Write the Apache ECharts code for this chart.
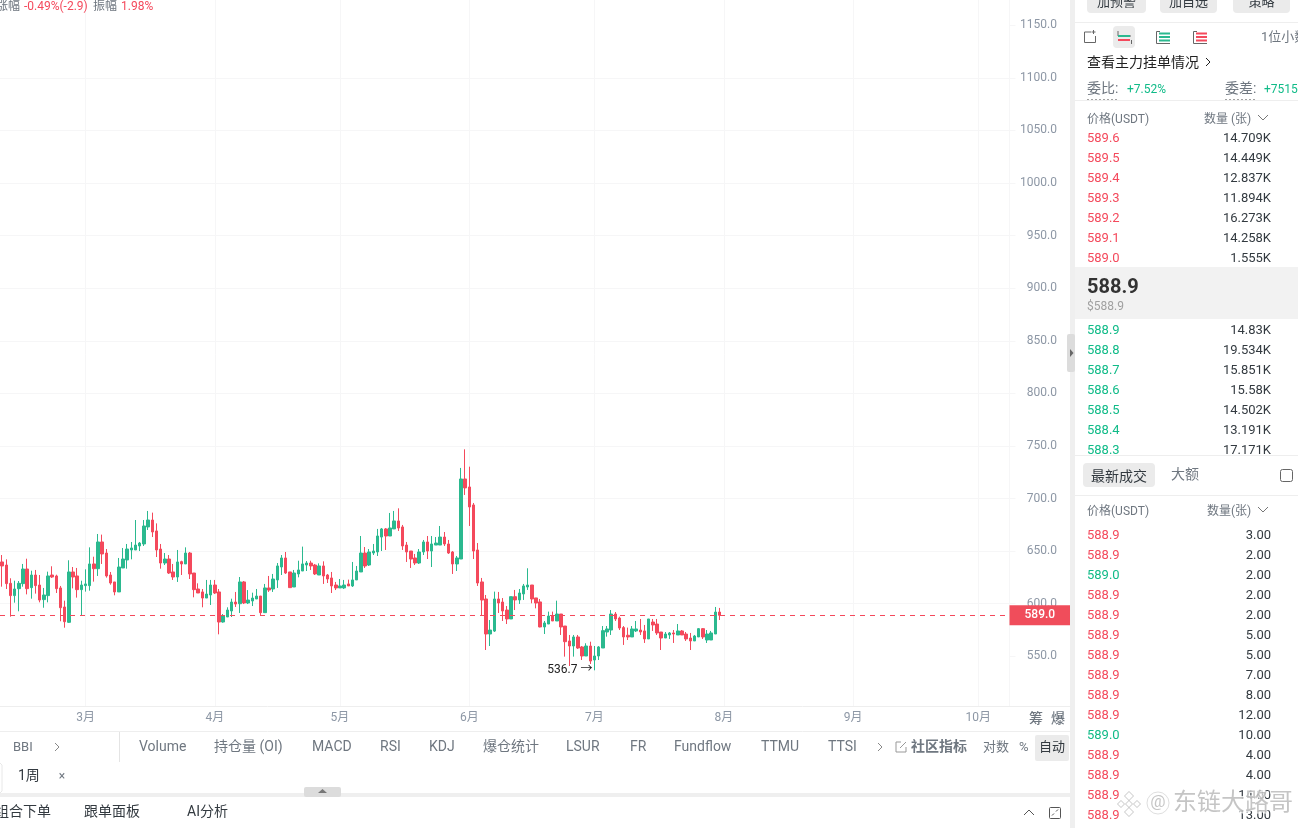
<!DOCTYPE html>
<html><head><meta charset="utf-8">
<style>html,body{margin:0;padding:0;background:#fff;overflow:hidden}#c{width:1298px;height:828px}</style>
<script src="https://cdn.jsdelivr.net/npm/echarts@6/dist/echarts.min.js"></script>
</head><body><div id="c"></div>
<script>
// [open, close, low, high]
const ohlc = [
[639.7,635.9,616.2,646.3],[636.8,619.1,614.0,642.2],[619.4,607.7,587.7,624.2],[607.7,614.0,601.0,621.9],[614.3,619.4,592.8,621.6],
[619.1,633.0,616.2,637.8],[633.0,614.3,608.9,642.8],[615.3,627.3,604.8,631.4],[627.3,617.2,609.6,632.1],[617.8,603.5,601.3,627.3],
[603.9,608.3,596.2,615.0],[607.7,626.4,601.3,630.5],[627.3,625.4,624.5,635.6],[626.4,614.3,610.2,627.6],[615.0,596.2,583.3,616.9],
[596.9,582.9,577.2,602.9],[582.3,630.2,581.7,641.3],[630.2,625.4,614.6,634.9],[626.4,613.4,605.8,634.0],[613.4,617.8,589.0,621.9],
[617.2,618.8,611.5,632.7],[617.2,637.8,612.4,653.6],[637.8,633.3,621.0,644.7],[633.3,658.7,626.4,666.3],[658.7,647.3,637.8,665.7],
[648.2,626.4,624.8,652.0],[627.3,619.7,618.1,630.2],[620.7,611.2,608.0,620.7],[611.2,634.9,611.2,643.5],[634.0,642.5,634.0,653.0],
[641.6,652.0,633.3,656.8],[651.1,653.0,642.2,658.7],[651.1,655.8,651.1,679.6],[654.9,657.7,650.1,658.7],[656.8,673.9,654.9,679.6],
[673.0,679.6,670.1,688.2],[679.6,668.2,663.4,686.6],[669.2,651.1,644.4,676.4],[652.0,638.7,633.3,656.8],[638.7,642.5,636.8,648.2],
[642.5,629.2,628.3,646.3],[630.2,625.4,622.6,637.8],[625.4,639.7,620.7,651.1],[640.0,637.8,627.3,640.9],[637.8,648.2,637.8,653.6],
[648.2,628.3,623.5,649.2],[629.2,613.4,606.1,629.2],[614.0,610.2,610.2,619.4],[611.2,605.4,596.6,614.0],[605.4,609.2,605.4,622.6],
[608.3,617.8,598.8,622.6],[617.8,610.2,609.2,622.6],[611.2,582.6,570.9,614.0],[582.6,588.3,582.0,590.2],[587.4,594.0,587.4,596.6],
[593.1,601.6,587.4,604.8],[601.6,599.7,596.9,611.2],[600.0,620.7,591.2,625.4],[620.7,600.7,599.7,621.6],[600.7,603.5,599.7,613.0],
[602.6,605.4,597.8,610.5],[604.5,607.3,604.5,614.0],[607.3,591.5,589.3,607.3],[591.5,615.0,591.5,618.8],[615.0,613.0,611.2,626.4],
[614.0,623.5,611.2,628.3],[622.6,635.9,615.0,638.7],[634.9,643.5,627.3,646.3],[643.5,629.2,628.3,649.2],[630.2,615.3,615.3,630.2],
[615.9,629.2,615.9,632.1],[628.3,632.1,625.1,640.9],[631.1,637.8,631.1,654.3],[636.8,638.7,631.1,640.6],[638.7,635.9,632.1,640.9],
[636.8,628.3,627.3,637.8],[627.3,635.9,627.3,638.4],[635.9,626.4,618.8,640.3],[627.3,623.5,619.7,628.3],[624.5,616.9,610.2,630.2],
[617.8,615.0,613.0,620.7],[615.0,616.9,615.0,623.5],[615.0,617.8,614.0,622.6],[618.8,616.9,616.9,622.9],[616.9,622.6,615.9,639.7],
[622.6,631.1,622.6,635.9],[630.2,648.2,630.2,664.4],[648.2,635.9,634.0,653.9],[636.8,649.2,635.9,652.0],[648.2,650.1,646.3,656.8],
[649.2,664.4,645.4,671.1],[663.4,671.1,650.1,672.0],[671.1,664.4,651.1,672.0],[664.4,672.0,664.4,686.3],[671.1,678.7,671.1,688.2],
[678.7,672.0,669.2,690.7],[673.0,654.9,651.1,674.9],[655.8,649.2,639.7,658.7],[650.1,642.5,634.0,650.1],[643.5,638.7,636.8,647.3],
[638.7,649.2,637.8,652.0],[649.2,658.7,646.3,660.6],[658.7,650.1,642.5,664.4],[650.1,656.8,634.9,664.4],[655.8,657.7,655.8,663.4],
[655.8,663.4,655.8,673.9],[663.4,656.8,654.9,668.2],[656.8,648.2,647.3,660.6],[649.2,637.8,628.3,650.1],[637.8,643.5,631.1,645.4],
[642.5,718.6,642.5,729.1],[718.6,710.1,703.4,746.8],[711.0,692.0,673.9,730.3],[693.9,650.1,642.5,695.8],[651.1,619.7,616.9,657.7],
[620.7,603.5,588.3,624.5],[604.5,571.2,556.0,608.3],[571.2,575.0,559.8,584.5],[574.0,604.5,573.1,611.5],[604.5,600.7,591.2,611.2],
[601.6,593.1,583.6,605.4],[594.0,585.5,580.7,597.8],[585.5,606.7,585.5,606.7],[606.7,603.6,594.0,613.1],[603.6,610.2,599.8,614.0],
[609.3,616.9,603.6,618.8],[615.9,617.8,613.1,633.7],[617.8,604.5,600.4,617.8],[605.5,600.7,595.6,605.5],[601.7,577.9,577.6,604.5],
[577.9,581.7,571.2,583.6],[580.7,588.3,580.7,592.5],[588.3,583.6,583.6,592.5],[583.6,590.2,583.6,602.9],[590.2,577.9,570.3,590.2],
[578.8,563.9,549.7,578.8],[564.6,559.8,540.8,570.3],[559.8,568.4,549.7,570.3],[568.4,557.9,557.0,570.3],[558.9,550.3,546.5,559.8],
[550.3,559.8,550.3,562.4],[559.8,545.5,542.7,563.9],[546.5,550.3,536.7,559.8],[550.3,558.9,546.5,559.8],[557.9,574.4,557.9,578.8],
[573.1,576.0,568.7,578.8],[575.0,590.2,570.3,594.0],[590.2,585.5,583.6,592.1],[586.4,576.9,575.0,587.7],[577.3,568.4,560.8,578.8],
[570.0,568.4,565.5,577.3],[568.4,576.0,568.4,578.8],[574.1,576.0,573.1,583.6],[575.0,573.1,570.3,585.5],[574.1,566.5,562.7,579.8],
[566.5,585.5,566.5,585.5],[582.6,579.8,574.1,585.5],[580.7,572.2,570.3,585.5],[573.1,567.4,556.0,573.1],[567.4,571.2,567.4,573.1],
[570.3,572.2,566.5,573.1],[572.2,571.2,562.7,575.0],[570.3,574.1,570.3,580.7],[574.1,570.3,570.3,575.0],[571.2,566.5,564.6,573.1],
[567.4,564.6,556.0,572.2],[564.6,569.3,564.6,570.3],[568.4,576.3,568.4,576.9],[576.3,568.4,566.5,576.9],[565.5,571.2,562.7,575.0],
[565.5,572.2,565.5,574.1],[571.2,592.1,571.2,596.9],[592.1,589.0,584.5,596.0]
];
const startDate = '2025-02-09';
const dayCount = 242;
const yTicks = [550,600,650,700,750,800,850,900,950,1000,1050,1100,1150];
const lastPrice = 589.0;
const lowPrice = 536.7;
const lowIndex = 142;
const toolbarLabels = [['BBI',13],['Volume',139],['持仓量 (OI)',214],['MACD',312],['RSI',380],['KDJ',429],['爆仓统计',483],['LSUR',566],['FR',630],['Fundflow',674],['TTMU',761],['TTSI',828]];
const askPrices = ['589.6','589.5','589.4','589.3','589.2','589.1','589.0'];
const askSizes = ['14.709K','14.449K','12.837K','11.894K','16.273K','14.258K','1.555K'];
const bidPrices = ['588.9','588.8','588.7','588.6','588.5','588.4','588.3'];
const bidSizes = ['14.83K','19.534K','15.851K','15.58K','14.502K','13.191K','17.171K'];
const tradePrices = ['588.9','588.9','589.0','588.9','588.9','588.9','588.9','588.9','588.9','588.9','589.0','588.9','588.9','588.9','588.9'];
const tradeSizes = ['3.00','2.00','2.00','2.00','2.00','5.00','5.00','7.00','8.00','12.00','10.00','4.00','4.00','14.00','13.00'];
const tradeSides = ['s','s','b','s','s','s','s','s','s','s','b','s','s','s','s'];

const RED='#f4495c', GREEN='#2bb98f', TXTG='#10bb88', GRID='#f6f6f7', AXIS='#8d97a5', DARK='#333a40', MUTE='#6f7780', SEP='#efefef', LINE='#eeeeee';
const FF='Roboto,"Noto Sans CJK SC",sans-serif';
const dates = Array.from({length:dayCount},(_,i)=>{const d=new Date(startDate+'T00:00:00Z');d.setUTCDate(d.getUTCDate()+i);return d.toISOString().slice(0,10);});
const isMonthStart = (i,v)=>v.slice(8)==='01';

const g=[];
const T=(text,x,y,fill,size,o={})=>g.push({type:'text',z:o.z||20,silent:true,style:{text,x,y:y+1,fill,font:(o.weight||'normal')+' '+(size||13)+'px '+FF,textAlign:o.align||'left',textVerticalAlign:'middle',stroke:o.stroke,lineWidth:o.lw,opacity:o.op}});
const R=(x,y,w,h,fill,o={})=>g.push({type:'rect',z:o.z||10,silent:true,shape:{x,y,width:w,height:h,r:o.r||0},style:{fill,stroke:o.stroke,lineWidth:o.lw}});
const L=(x1,y1,x2,y2,stroke,o={})=>g.push({type:'line',z:o.z||15,silent:true,shape:{x1,y1,x2,y2},style:{stroke,lineWidth:o.lw||1,lineDash:o.dash}});
const P=(pts,stroke,o={})=>g.push({type:'polyline',z:o.z||15,silent:true,shape:{points:pts},style:{stroke,fill:'none',lineWidth:o.lw||1}});
const F=(pts,fill,o={})=>g.push({type:'polygon',z:o.z||15,silent:true,shape:{points:pts},style:{fill,stroke:o.stroke,lineWidth:o.lw}});

// chart pane edges
L(1009.5,0,1009.5,707,GRID,{z:1});
R(0,707,1070,4,'#fff',{z:9});
L(0,706.5,1070,706.5,LINE);
L(0,731.5,1070,731.5,LINE);
// top status
T('涨幅',-4,5.5,MUTE,12); T('-0.49%(-2.9)',24,5.5,RED,12); T('振幅',93,5.5,MUTE,12); T('1.98%',121,5.5,RED,12);
// bottom x-side labels
T('筹',1036,718.5,MUTE,14,{align:'center',weight:'500'}); T('爆',1058,718.5,MUTE,14,{align:'center',weight:'500'});
// toolbar
toolbarLabels.forEach(([s,x],i)=>T(s,x,746.5,MUTE,i===0?13:14));
P([[55,743],[59,747],[55,751]],'#888');
L(119.5,732,119.5,762,'#e4e4e4');
P([[878,743],[882,747],[878,751]],'#888');
P([[901,742],[896,742],[896,752],[906,752],[906,747]],'#999'); L(900,748,906,742,'#999');
T('社区指标',911,746.5,MUTE,14,{weight:'bold'});
T('对数',983,746.5,MUTE,13); T('%',1019,746.5,MUTE,13);
R(1035,735,34,26,'#ebebeb',{r:2}); T('自动',1052,746.5,DARK,13,{align:'center'});
// tab row
P([[0,763],[2,765],[2,791],[0,793]],'#e8e8e8');
T('1周',18,775.5,DARK,14); T('×',62,775.5,MUTE,12,{align:'center'});
// split bar
R(0,793,1070,4,SEP); R(304,787,37,10,'#dcdcdc',{r:2,z:11}); F([[318,793],[322.5,789],[327,793]],'#777',{z:12});
// bottom row
T('组合下单',-5,811.5,DARK,14); T('跟单面板',84,811.5,DARK,14); T('AI分析',187,811.5,DARK,14);
P([[1024,815],[1029,810],[1034,815]],'#555');
g.push({type:'rect',z:15,silent:true,shape:{x:1049.5,y:807.5,width:11,height:11,r:1},style:{fill:'none',stroke:'#555'}});
L(1052,815.5,1054,813.5,'#555'); L(1056,811.5,1058,809.5,'#555');
// vertical separator & right panel
R(1070,0,5,828,SEP);
R(1067,334,8,38,'#dcdcdc',{r:2,z:11}); F([[1070,349],[1070,357],[1073.5,353]],'#666',{z:12});
[[1087,59,'加预警'],[1160,57,'加自选'],[1233,57,'策略']].forEach(([x,w,s])=>{R(x,-8,w,21,'#ebebeb',{r:4}); T(s,x+w/2,2,DARK,13,{align:'center'});});
L(1075,22.5,1298,22.5,LINE);
// order book icons
P([[1091,32],[1084.5,32],[1084.5,42.5],[1095.5,42.5],[1095.5,36]],'#666'); L(1093.5,30,1093.5,34,'#666'); L(1091.5,32,1095.5,32,'#666');
R(1113,26,22,22,'#ebebeb',{r:4});
P([[1118,31],[1118,36],[1131,36]],'#666'); L(1118,36,1130,36,GREEN,{lw:2,z:16}); L(1118,40,1130,40,RED,{lw:2,z:16}); L(1131.5,40,1131.5,44,'#666');
[[1156,GREEN],[1193,RED]].forEach(([x,c])=>{P([[x+4,31.5],[x+.5,31.5],[x+.5,43.5],[x+14,43.5]],'#666');[33.5,37,40.5].forEach(y=>L(x+3,y,x+14,y,c,{lw:2}));});
T('1位小数',1261,37,MUTE,13);
T('查看主力挂单情况',1087,62,'#222',14); P([[1206,58],[1210,62],[1206,66]],'#222');
T('委比:',1087,88,MUTE,14); T('+7.52%',1127,88.5,TXTG,12);
T('委差:',1225,88,MUTE,14); T('+7515',1264,88.5,TXTG,12);
L(1087,100,1119,100,'#444',{dash:[2,2]}); L(1225,100,1257,100,'#444',{dash:[2,2]});
L(1075,100.5,1298,100.5,LINE);
T('价格(USDT)',1087,118.5,MUTE,12); T('数量 (张)',1204,118.5,MUTE,12); P([[1258,115],[1263,120],[1268,115]],'#777');
askPrices.forEach((s,i)=>{T(s,1087,138+i*20,RED,13);T(askSizes[i],1271,138+i*20,DARK,13,{align:'right'});});
R(1075,267,223,52,'#f2f2f2');
T('588.9',1087,286.5,'#333',20,{weight:'bold'}); T('$588.9',1087,305.5,'#a0a0a0',12);
bidPrices.forEach((s,i)=>{T(s,1087,330+i*20,TXTG,13);T(bidSizes[i],1271,330+i*20,DARK,13,{align:'right'});});
R(1075,455,223,40,'#fff',{z:25}); L(1075,455.5,1298,455.5,LINE,{z:26});
R(1083,463,72,24,'#ebebeb',{r:4,z:26}); T('最新成交',1091,476.5,DARK,14,{z:27}); T('大额',1171,474.5,MUTE,14,{z:27});
g.push({type:'rect',z:27,silent:true,shape:{x:1280.5,y:469.5,width:12,height:12,r:2},style:{fill:'#fff',stroke:'#666'}});
L(1075,495.5,1298,495.5,LINE,{z:26});
T('价格(USDT)',1087,510.5,MUTE,12); T('数量(张)',1207,510.5,MUTE,12); P([[1258,507],[1263,512],[1268,507]],'#777');
tradePrices.forEach((s,i)=>{T(s,1087,535+i*20,tradeSides[i]==='b'?TXTG:RED,13);T(tradeSizes[i],1271,535+i*20,DARK,13,{align:'right'});});
// watermark
const WM='rgba(150,150,150,.55)';
[[1129,796,4.5],[1121,804,3.5],[1137,804,3.5],[1129,804,3.5],[1129,812,4.5]].forEach(([x,y,r])=>F([[x,y-r],[x+r,y],[x,y+r],[x-r,y]],'rgba(255,255,255,.9)',{stroke:WM,lw:1,z:30}));
g.push({type:'circle',z:30,silent:true,shape:{cx:1158,cy:803,r:11},style:{fill:'rgba(255,255,255,.5)',stroke:'rgba(190,190,190,.5)'}});
T('@',1158,802,WM,17,{align:'center',z:31});
T('东链大路哥',1173,803,WM,24,{z:31,stroke:'rgba(255,255,255,.8)',lw:2});

const chart=echarts.init(document.getElementById('c'),null,{width:1298,height:828});
chart.setOption({
  animation:false,backgroundColor:'#fff',
  grid:{left:-0.75,top:0,width:1010.25,height:708.9,containLabel:false},
  xAxis:{type:'category',data:dates,axisLine:{show:false},axisTick:{show:false},
    axisLabel:{interval:isMonthStart,color:AXIS,fontFamily:FF,fontSize:12,margin:3,hideOverlap:false,
      formatter:v=>parseInt(v.slice(5,7),10)+'月'},
    splitLine:{show:true,interval:isMonthStart,alignWithLabel:true,lineStyle:{color:GRID,width:1}}},
  yAxis:{type:'value',position:'right',min:500,max:1174,interval:50,scale:false,
    axisLine:{show:false},
    axisTick:{show:true,length:6,customValues:yTicks,lineStyle:{color:GRID}},
    axisLabel:{customValues:yTicks,align:'right',margin:47.5,padding:[3,0,0,0],color:AXIS,fontFamily:FF,fontSize:12,formatter:v=>v.toFixed(1)},
    splitLine:{show:true,showMinLine:false,showMaxLine:false,lineStyle:{color:GRID,width:1}}},
  series:[{type:'candlestick',data:ohlc,barWidth:3,
    itemStyle:{color:GREEN,color0:RED,borderColor:GREEN,borderColor0:RED,borderWidth:1},
    markLine:{silent:true,symbol:'none',animation:false,precision:1,
      lineStyle:{color:RED,type:[5,5],width:1},
      data:[{yAxis:lastPrice}],
      label:{show:true,position:'end',distance:0,formatter:p=>p.value.toFixed(1),color:'#fff',backgroundColor:'#f04d5b',padding:[4,15,4,15],lineHeight:12,fontFamily:FF,fontSize:12,fontWeight:500}},
    markPoint:{silent:true,animation:false,symbol:'circle',symbolSize:0,
      data:[{coord:[dates[lowIndex],lowPrice],value:lowPrice}],
      label:{show:true,position:'left',distance:0,offset:[-2,0],formatter:p=>p.value.toFixed(1)+' →',color:'#222',fontFamily:FF,fontSize:12}}
  }],
  graphic:{elements:g}
});
</script></body></html>
